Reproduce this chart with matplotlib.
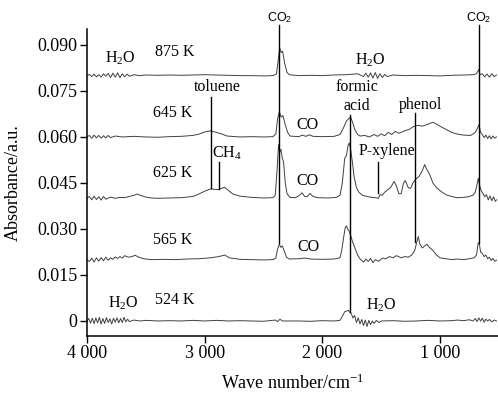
import numpy as np
import matplotlib
matplotlib.use("Agg")
import matplotlib.pyplot as plt

plt.rcParams['font.family'] = ['Liberation Serif', 'DejaVu Serif']
plt.rcParams['mathtext.fontset'] = 'custom'
plt.rcParams['mathtext.rm'] = 'Liberation Serif'
plt.rcParams['mathtext.it'] = 'Liberation Serif:italic'
plt.rcParams['mathtext.sf'] = 'Liberation Sans'

# spectra: wave number (cm-1) and absorbance above baseline (x 1e-3 a.u.)
wn_875 = [4000, 3980, 3960, 3940, 3920, 3900, 3880, 3860, 3840, 3820, 3800, 3780, 3760, 3740, 3720, 3700,
          3680, 3660, 3640, 3600, 3560, 3500, 3400, 3300, 3200, 3100, 3000, 2900, 2800, 2700, 2600, 2500,
          2420, 2390, 2375, 2362, 2350, 2338, 2320, 2300, 2280, 2200, 2100, 2000, 1900, 1800, 1700, 1650,
          1630, 1610, 1590, 1570, 1550, 1530, 1510, 1490, 1470, 1450, 1400, 1300, 1200, 1100, 1000, 900,
          800, 720, 690, 670, 660, 640, 620, 600, 580, 560, 540, 520]
a_875 = [0.0, 0.4, -0.3, 0.5, -0.4, 0.3, -0.5, 0.6, -0.2, 0.7, -0.6, 0.8, -0.5, 0.9, -0.7, 0.6,
         -0.4, 0.5, -0.2, 0.3, 0.0, 0.2, 0.1, 0.2, 0.1, 0.2, 0.3, 0.2, 0.1, 0.0, 0.0, -0.1,
         0.0, 0.5, 5.0, 9.0, 7.5, 8.0, 4.0, 1.0, 0.3, 0.0, 0.1, 0.0, 0.2, 0.3, 0.6, -0.3,
         0.8, -0.5, 0.9, -0.8, 1.0, -0.9, 0.6, -0.6, 0.4, -0.3, 0.2, 0.0, 0.1, 0.0, -0.1, 0.1,
         0.2, 0.3, 0.6, 2.0, 0.3, 0.6, -0.4, 0.5, -0.5, 0.6, -0.3, 0.2]

wn_645 = [4000, 3980, 3960, 3940, 3920, 3900, 3880, 3860, 3840, 3820, 3800, 3760, 3700, 3600, 3500, 3400,
          3300, 3200, 3100, 3050, 3000, 2955, 2900, 2850, 2810, 2700, 2600, 2500, 2420, 2395, 2380, 2365,
          2350, 2335, 2315, 2295, 2275, 2200, 2170, 2140, 2110, 2080, 2000, 1900, 1850, 1820, 1795, 1775,
          1760, 1745, 1725, 1700, 1680, 1640, 1600, 1560, 1530, 1500, 1470, 1440, 1410, 1380, 1350, 1300,
          1260, 1220, 1180, 1150, 1100, 1060, 1030, 1000, 950, 900, 860, 800, 740, 700, 680, 668,
          655, 640, 625, 610, 595, 580, 565, 550, 535, 520]
a_645 = [0.0, 0.5, -0.4, 0.6, -0.3, 0.5, -0.4, 0.4, -0.3, 0.5, -0.2, 0.3, 0.0, 0.2, 0.0, -0.1,
         0.1, 0.2, 0.5, 0.9, 1.6, 2.0, 1.5, 0.9, 0.3, 0.0, 0.1, 0.0, 0.1, 1.0, 6.0, 8.2,
         6.5, 7.0, 4.0, 1.5, 0.3, 0.1, 0.6, 0.2, 0.7, 0.2, 0.1, 0.2, 0.8, 3.0, 5.2, 6.0,
         6.5, 5.0, 2.5, 0.8, 0.3, 0.5, 0.0, 0.8, 0.2, 1.0, 0.4, 1.5, 0.8, 1.8, 1.2, 2.0,
         2.5, 3.5, 3.8, 3.5, 4.2, 4.8, 4.2, 3.5, 2.5, 1.5, 1.0, 0.6, 0.5, 1.5, 3.0, 4.0,
         1.5, 0.8, -0.2, 0.6, -0.5, 0.4, -0.6, 0.3, -0.4, 0.0]

wn_625 = [4000, 3980, 3960, 3940, 3920, 3900, 3880, 3860, 3840, 3800, 3760, 3720, 3680, 3640, 3600, 3575,
          3550, 3500, 3450, 3400, 3300, 3200, 3100, 3060, 3000, 2955, 2930, 2890, 2860, 2830, 2800, 2760,
          2700, 2600, 2500, 2420, 2400, 2385, 2372, 2362, 2352, 2340, 2330, 2315, 2300, 2275, 2230, 2200,
          2173, 2150, 2130, 2105, 2080, 2040, 1950, 1880, 1850, 1830, 1810, 1795, 1780, 1770, 1760, 1745,
          1730, 1710, 1690, 1660, 1620, 1580, 1550, 1523, 1510, 1490, 1470, 1450, 1420, 1390, 1370, 1350,
          1330, 1310, 1295, 1270, 1250, 1230, 1200, 1180, 1150, 1130, 1120, 1105, 1085, 1060, 1030, 1000,
          975, 940, 900, 857, 800, 760, 720, 700, 685, 675, 665, 650, 635, 620, 605, 590,
          575, 560, 545, 530, 520]
a_625 = [0.0, 0.6, -0.5, 0.7, -0.4, 0.5, -0.6, 0.6, -0.3, 0.4, 0.0, 0.3, 0.2, 0.6, 1.0, 1.4,
         1.0, 0.4, 0.1, 0.0, 0.1, 0.2, 0.6, 1.2, 2.3, 3.0, 3.0, 2.8, 3.2, 3.6, 2.6, 1.4,
         0.7, 0.3, 0.1, 0.2, 1.0, 9.0, 17.5, 15.0, 16.0, 13.0, 12.0, 5.0, 1.5, 0.3, 0.2, 0.8,
         1.8, 0.6, 0.5, 1.6, 0.6, 0.2, 0.1, 0.3, 1.0, 5.0, 13.0, 14.0, 17.5, 18.0, 16.0, 12.0,
         7.0, 3.5, 2.0, 1.0, 0.6, 0.3, 0.2, 0.0, 1.2, 1.0, 2.0, 2.6, 3.5, 5.5, 4.0, 1.5,
         1.5, 5.0, 5.8, 3.5, 3.2, 5.0, 6.5, 7.0, 9.0, 11.0, 10.0, 9.0, 7.5, 5.0, 3.5, 2.5,
         1.8, 1.0, 0.6, 0.2, 0.3, 0.5, 1.0, 2.0, 4.5, 6.5, 4.5, 2.5, 1.5, 0.5, 1.2, -0.5,
         0.8, -0.8, 0.5, -1.0, -0.5]

wn_565 = [4000, 3980, 3960, 3940, 3920, 3900, 3880, 3860, 3840, 3820, 3800, 3780, 3760, 3740, 3720, 3700,
          3680, 3650, 3620, 3590, 3560, 3520, 3450, 3350, 3250, 3150, 3050, 2950, 2880, 2830, 2790, 2700,
          2600, 2500, 2420, 2395, 2380, 2365, 2352, 2340, 2325, 2305, 2280, 2200, 2150, 2100, 2000, 1900,
          1850, 1835, 1820, 1805, 1795, 1785, 1775, 1760, 1745, 1725, 1700, 1680, 1650, 1630, 1610, 1590,
          1570, 1550, 1520, 1490, 1460, 1430, 1400, 1370, 1330, 1300, 1270, 1240, 1215, 1195, 1185, 1170,
          1150, 1130, 1110, 1090, 1060, 1030, 1000, 950, 900, 850, 800, 750, 710, 690, 675, 665,
          655, 640, 625, 610, 595, 580, 565, 550, 535, 520]
a_565 = [0.0, -0.6, 0.5, -0.8, 0.6, -0.5, 0.7, -0.4, 0.8, -0.2, 0.6, 0.1, 0.9, 0.4, 1.0, 0.5,
         1.3, 0.8, 1.0, 1.4, 0.8, 0.3, 0.0, 0.1, 0.0, 0.2, 0.3, 0.6, 1.0, 1.5, 0.6, 0.1,
         0.0, -0.1, 0.0, 0.5, 3.5, 5.0, 4.0, 4.5, 3.0, 0.8, 0.2, 0.3, 0.5, 0.2, 0.1, 0.2,
         0.6, 3.0, 7.0, 10.5, 11.0, 10.0, 9.5, 8.0, 6.0, 4.0, 1.5, 0.3, -0.8, 0.2, -0.6, 0.4,
         -1.0, 0.0, -0.5, 0.5, 0.3, 1.0, 0.6, 1.3, 0.6, 1.0, 0.8, 1.5, 3.0, 6.0, 7.5, 5.0,
         3.8, 4.5, 5.0, 4.0, 3.0, 1.5, 0.6, 0.3, 0.0, 0.2, 0.0, 0.3, 0.6, 1.5, 5.5, 5.0,
         2.5, 2.0, 1.0, 1.5, 0.3, 0.8, -0.3, 0.4, -0.5, -0.2]

wn_524 = [4000, 3985, 3970, 3955, 3940, 3925, 3910, 3895, 3880, 3865, 3850, 3835, 3820, 3805, 3790, 3775,
          3760, 3745, 3730, 3715, 3700, 3685, 3670, 3655, 3640, 3600, 3550, 3500, 3400, 3300, 3200, 3100,
          3000, 2900, 2800, 2700, 2600, 2500, 2400, 2380, 2360, 2340, 2200, 2100, 2000, 1900, 1850, 1830,
          1810, 1795, 1780, 1770, 1755, 1740, 1725, 1710, 1695, 1680, 1665, 1650, 1635, 1620, 1605, 1590,
          1575, 1560, 1540, 1520, 1500, 1400, 1300, 1200, 1100, 1000, 900, 850, 800, 750, 720, 700,
          685, 670, 655, 640, 625, 610, 595, 580, 560, 540, 520]
a_524 = [0.0, 0.8, -0.7, 0.9, -0.9, 1.0, -0.6, 1.2, -1.0, 0.8, -0.8, 1.1, -0.5, 0.7, -1.0, 0.9,
         -0.4, 1.0, -0.6, 0.8, -0.5, 1.2, -0.3, 0.6, -0.2, 0.3, 0.0, 0.2, 0.0, 0.1, 0.0, 0.2,
         0.0, 0.2, 0.0, 0.1, 0.0, -0.1, 0.3, -0.2, 0.6, 0.0, 0.0, -0.1, 0.1, 0.0, 0.2, 1.5,
         3.0, 3.2, 3.5, 3.0, 2.5, 1.0, 1.8, -0.5, 1.0, -1.0, 0.5, -1.5, 0.3, -1.8, 0.2, -1.2,
         0.0, -0.8, 0.2, -0.5, 0.0, 0.1, -0.1, 0.0, 0.2, 0.0, 0.1, 0.3, 0.1, 0.4, 0.0, 0.8,
         -0.2, 1.0, 0.0, 0.9, -0.4, 0.6, 0.0, 0.5, -0.3, 0.3, 0.0]

temps = ['524 K', '565 K', '625 K', '645 K', '875 K']
offsets = [0.0, 0.020, 0.040, 0.060, 0.080]
spectra = [(wn_524, a_524), (wn_565, a_565), (wn_625, a_625), (wn_645, a_645), (wn_875, a_875)]

# marker lines: (wave number, y bottom, y top)
marker_lines = [(2365, 0.0254, 0.0965), (668, 0.0254, 0.0965), (1763, 0.0029, 0.0672),
                (1212, 0.0258, 0.0678), (2947, 0.0434, 0.0730), (2876, 0.0430, 0.0518),
                (1523, 0.0417, 0.0518)]

# labels: (wave number, y, text)
temp_label_pos = [(3250, 0.0068), (3270, 0.0264), (3270, 0.0483), (3270, 0.0678), (3250, 0.0877)]
band_labels = [(3720, 0.0857, 'H$_2$O'), (1595, 0.0850, 'H$_2$O'), (2895, 0.0763, 'toluene'),
               (2130, 0.0639, 'CO'), (1705, 0.0731, 'formic\nacid'), (1170, 0.0704, 'phenol'),
               (2810, 0.0548, 'CH$_4$'), (1450, 0.0554, 'P-xylene'), (2130, 0.0456, 'CO'),
               (2115, 0.0241, 'CO'), (3694, 0.0059, 'H$_2$O'), (1495, 0.0052, 'H$_2$O')]
co2_labels = [(2365, 0.0990), (668, 0.0990)]

fig = plt.figure(figsize=(4.98, 3.93), dpi=100)
ax = fig.add_axes([0.1747, 0.1458, 0.8253, 0.7804])

for (wn, a), off in zip(spectra, offsets):
    ax.plot(wn, off + np.array(a) * 1e-3, color='#404040', lw=0.7)

for x, y0, y1 in marker_lines:
    ax.plot([x, x], [y0, y1], color='black', lw=1.0, clip_on=False)

for (x, y), t in zip(temp_label_pos, temps):
    ax.text(x, y, t, fontsize=11.5, ha='center', va='center')
for x, y, t in band_labels:
    ax.text(x, y, t, fontsize=11.5, ha='center', va='center', linespacing=1.25)
for x, y in co2_labels:
    ax.text(x, y, r'CO$_\mathsf{2}$', fontsize=9, ha='center', va='center', family='Liberation Sans')

ax.set_xlim(4000, 507)
ax.set_ylim(-0.0048, 0.0952)
ax.set_xticks([4000, 3000, 2000, 1000])
ax.set_xticklabels(['4 000', '3 000', '2 000', '1 000'])
ax.set_yticks([0, 0.015, 0.030, 0.045, 0.060, 0.075, 0.090])
ax.set_yticklabels(['0', '0.015', '0.030', '0.045', '0.060', '0.075', '0.090'])
ax.tick_params(direction='out', length=5, width=1.0, labelsize=13, pad=2)
ax.spines['top'].set_visible(False)
ax.spines['right'].set_visible(False)
ax.spines['left'].set_linewidth(1.1)
ax.spines['bottom'].set_linewidth(1.1)
ax.set_xlabel('Wave number/cm$^{-1}$', fontsize=13, labelpad=8)
ax.set_ylabel('Absorbance/a.u.', fontsize=13, labelpad=11)

fig.savefig('out.png', dpi=100)
